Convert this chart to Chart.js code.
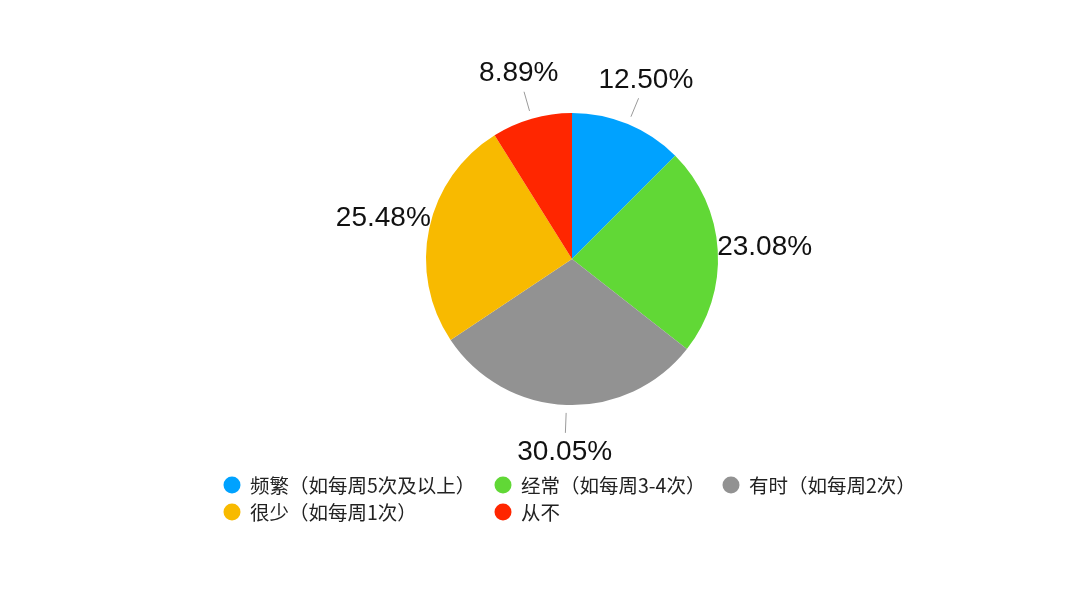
<!DOCTYPE html>
<html>
<head>
<meta charset="utf-8">
<script src="https://cdn.jsdelivr.net/npm/chart.js@4.4.0/dist/chart.umd.min.js"></script>
<style>
  html, body { margin: 0; background: #fff; }
  #wrap { width: 1080px; height: 608px; }
</style>
</head>
<body>
<div id="wrap"><canvas id="freqPie" width="1080" height="608"></canvas></div>
<script>
// data
const categories = ['频繁（如每周5次及以上）', '经常（如每周3-4次）', '有时（如每周2次）', '很少（如每周1次）', '从不'];
const shares = [12.50, 23.08, 30.05, 25.48, 8.89];
const sliceColors = ['#00A2FF', '#61D836', '#929292', '#F8BA00', '#FF2600'];

// percent labels outside the pie, with a short leader line
const outerLabels = {
    id: 'outerLabels',
    afterDatasetsDraw(chart) {
        const ctx = chart.ctx;
        const meta = chart.getDatasetMeta(0);
        ctx.save();
        ctx.font = '28px "Liberation Sans", Arial, sans-serif';
        ctx.textAlign = 'center';
        ctx.textBaseline = 'middle';
        meta.data.forEach((arc, i) => {
            const p = arc.getProps(['x', 'y', 'startAngle', 'endAngle', 'outerRadius'], true);
            const mid = (p.startAngle + p.endAngle) / 2;
            const c = Math.cos(mid), s = Math.sin(mid);
            const lr = p.outerRadius + 47;
            const lx = p.x + c * lr, ly = p.y + s * lr;
            const text = shares[i].toFixed(2) + '%';
            const w = ctx.measureText(text).width;
            const box = [lx - w / 2 - 4, ly - 15, lx + w / 2 + 4, ly + 15];

            // leader line, stopped where it would run into the text
            const r0 = p.outerRadius + 8;
            let r1 = r0;
            for (let r = r0; r <= p.outerRadius + 28; r += 0.5) {
                const px = p.x + c * r, py = p.y + s * r;
                if (px > box[0] && px < box[2] && py > box[1] && py < box[3]) break;
                r1 = r;
            }
            if (r1 - r0 > 3) {
                ctx.strokeStyle = '#9a9a9a';
                ctx.lineWidth = 1;
                ctx.beginPath();
                ctx.moveTo(p.x + c * r0, p.y + s * r0);
                ctx.lineTo(p.x + c * r1, p.y + s * r1);
                ctx.stroke();
            }
            ctx.fillStyle = '#111';
            ctx.fillText(text, lx, ly);
        });
        ctx.restore();
    }
};

// legend laid out in fixed columns like the original
const gridLegend = {
    id: 'gridLegend',
    afterDraw(chart) {
        const ctx = chart.ctx;
        const cols = [232, 503, 731];
        const rows = [485, 512];
        ctx.save();
        ctx.font = '19.5px "Noto Sans CJK SC", "Noto Sans", sans-serif';
        ctx.textAlign = 'left';
        ctx.textBaseline = 'middle';
        categories.forEach((name, i) => {
            const cx = cols[i % 3], cy = rows[Math.floor(i / 3)];
            ctx.fillStyle = sliceColors[i];
            ctx.beginPath();
            ctx.arc(cx, cy, 8.5, 0, Math.PI * 2);
            ctx.fill();
            ctx.fillStyle = '#222';
            ctx.fillText(name, cx + 18, cy + 1);
        });
        ctx.restore();
    }
};

new Chart(document.getElementById('freqPie'), {
    type: 'pie',
    data: {
        labels: categories,
        datasets: [{
            data: shares,
            backgroundColor: sliceColors,
            borderWidth: 0
        }]
    },
    options: {
        responsive: false,
        animation: false,
        layout: { padding: { left: 426, right: 362, top: 113, bottom: 203 } },
        plugins: {
            legend: { display: false },
            tooltip: { enabled: false }
        }
    },
    plugins: [outerLabels, gridLegend]
});
</script>
</body>
</html>
